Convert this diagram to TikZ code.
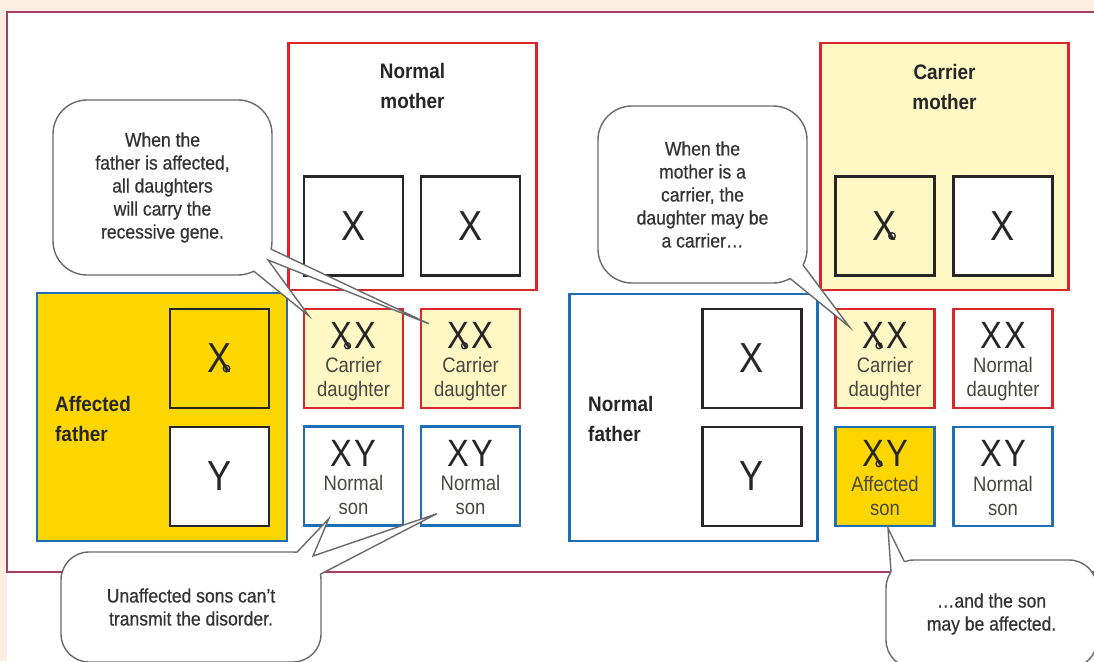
\documentclass[tikz,border=0pt]{standalone}
\usepackage{fontspec}
\setmainfont{Liberation Sans}
\newfontfamily\xfont{Liberation Sans}[FakeStretch=0.86]
\newfontfamily\kfont{Liberation Sans}[FakeStretch=0.88]
\newfontfamily\bfont{Liberation Sans}[FakeStretch=0.9,FakeBold=0.6]
\newfontfamily\lblfont{Liberation Sans}[FakeStretch=0.9]
\usetikzlibrary{calc}
\definecolor{peach}{HTML}{FDEEE2}
\definecolor{framec}{HTML}{A83C5C}
\definecolor{boxred}{HTML}{D8262C}
\definecolor{boxblue}{HTML}{1F6DB4}
\definecolor{gold}{HTML}{FDD600}
\definecolor{paleyel}{HTML}{FFF8C4}
\definecolor{bubgray}{HTML}{6A6A6A}
\definecolor{txt}{HTML}{262626}
\definecolor{ktxt}{HTML}{474740}
\definecolor{btxt}{HTML}{333333}
\begin{document}
\begin{tikzpicture}[x=1pt,y=-1pt,
  redbox/.style={draw=boxred, line width=2.5pt, rectangle, inner sep=0pt},
  bluebox/.style={draw=boxblue, line width=2.5pt, rectangle, inner sep=0pt},
  parent/.style={minimum width=248pt, minimum height=247pt},
  chrom/.style={draw=black!85, line width=2.6pt, rectangle, inner sep=0pt, minimum width=99pt, minimum height=99pt, fill=white},
  kid/.style={minimum width=99pt, minimum height=99pt},
  bigx/.style={font=\xfont\fontsize{42}{42}\selectfont, text=txt, inner sep=0pt},
  gene/.style={font=\xfont\fontsize{38}{38}\selectfont, text=txt, inner sep=0pt},
  kidlbl/.style={font=\kfont\fontsize{21}{24}\selectfont, text=ktxt, align=center, inner sep=0pt},
  plbl/.style={font=\lblfont\bfseries\fontsize{21}{30}\selectfont, text=txt, inner sep=0pt},
  bubble/.style={draw=bubgray, line width=1.4pt, fill=white, rounded corners=34pt, rectangle, align=center, font=\bfont\fontsize{19.5}{23}\selectfont, text=btxt, inner sep=0pt},
  tail/.style={draw=bubgray, line width=1.4pt, line join=miter},
  ring/.style={draw=txt, line width=1.3pt}
]
\useasboundingbox (0,0) rectangle (1094,661);
\clip (0,0) rectangle (1094,661);
% background and frame
\fill[peach] (0,0) rectangle (1094,661);
\fill[white] (7,12) rectangle (1094,661);
\draw[framec, line width=2pt] (1094,12) -- (7,12) -- (7,572) -- (1094,572);

% ---------- left cross ----------
\node[redbox, parent, fill=white] (nm) at (412.5,166.5) {};
\node[plbl, align=center] (nmt) at (412.5,86) {Normal\\mother};
\node[chrom] (nmx1) at (353.5,226) {};
\node[bigx] (nmx1t) at (nmx1) {X};
\node[chrom] (nmx2) at (470.5,226) {};
\node[bigx] (nmx2t) at (nmx2) {X};

\node[bluebox, fill=gold, minimum width=250pt, minimum height=248pt] (af) at (162,417) {};
\node[plbl, align=left, anchor=west] (aft) at (55,419) {Affected\\father};
\node[chrom, fill=gold] (fx) at (219.5,358.5) {};
\node[bigx] (fxt) at (fx) {X};
\draw[ring] ($(fxt)+(7,10)$) circle (3.3pt);
\node[chrom] (fy) at (219.5,476.5) {};
\node[bigx] (fyt) at (fy) {Y};

\node[redbox, kid, fill=paleyel] (d1) at (353.5,358.5) {};
\node[gene] (d1g) at ($(d1.north)+(0,28)$) {X\kern2pt X};
\node[kidlbl] (d1l) at ($(d1.north)+(0,71)$) {Carrier\\daughter};
\draw[ring] ($(d1g)+(-6,10)$) circle (3pt);
\node[redbox, kid, fill=paleyel] (d2) at (470.5,358.5) {};
\node[gene] (d2g) at ($(d2.north)+(0,28)$) {X\kern2pt X};
\node[kidlbl] (d2l) at ($(d2.north)+(0,71)$) {Carrier\\daughter};
\draw[ring] ($(d2g)+(-6,10)$) circle (3pt);
\node[bluebox, kid, fill=white] (s1) at (353.5,476) {};
\node[gene] (s1g) at ($(s1.north)+(0,28)$) {X\kern2pt Y};
\node[kidlbl] (s1l) at ($(s1.north)+(0,70)$) {Normal\\son};
\node[bluebox, kid, fill=white] (s2) at (470.5,476) {};
\node[gene] (s2g) at ($(s2.north)+(0,28)$) {X\kern2pt Y};
\node[kidlbl] (s2l) at ($(s2.north)+(0,70)$) {Normal\\son};

% ---------- right cross ----------
\node[redbox, parent, fill=paleyel] (cm) at (944.5,166.5) {};
\node[plbl, align=center] (cmt) at (944.5,87) {Carrier\\mother};
\node[chrom, fill=paleyel] (cmx1) at (885,226) {};
\node[bigx] (cmx1t) at (cmx1) {X};
\draw[ring] ($(cmx1t)+(7,10)$) circle (3.3pt);
\node[chrom] (cmx2) at (1003,226) {};
\node[bigx] (cmx2t) at (cmx2) {X};

\node[bluebox, parent, fill=white] (nf) at (693.5,417.5) {};
\node[plbl, align=left, anchor=west] (nft) at (588,419) {Normal\\father};
\node[chrom] (nfx) at (752,358.5) {};
\node[bigx] (nfxt) at (nfx) {X};
\node[chrom] (nfy) at (752,476.5) {};
\node[bigx] (nfyt) at (nfy) {Y};

\node[redbox, kid, fill=paleyel] (cd) at (885,358.5) {};
\node[gene] (cdg) at ($(cd.north)+(0,28)$) {X\kern2pt X};
\node[kidlbl] (cdl) at ($(cd.north)+(0,71)$) {Carrier\\daughter};
\draw[ring] ($(cdg)+(-6,10)$) circle (3pt);
\node[redbox, kid, fill=white] (nd) at (1003,358.5) {};
\node[gene] (ndg) at ($(nd.north)+(0,28)$) {X\kern2pt X};
\node[kidlbl] (ndl) at ($(nd.north)+(0,71)$) {Normal\\daughter};
\node[bluebox, kid, fill=gold] (afs) at (885,476.5) {};
\node[gene] (afsg) at ($(afs.north)+(0,28)$) {X\kern2pt Y};
\node[kidlbl] (afsl) at ($(afs.north)+(0,70)$) {Affected\\son};
\draw[ring] ($(afsg)+(-6,10)$) circle (3pt);
\node[bluebox, kid, fill=white] (ns) at (1003,476.5) {};
\node[gene] (nsg) at ($(ns.north)+(0,28)$) {X\kern2pt Y};
\node[kidlbl] (nsl) at ($(ns.north)+(0,70)$) {Normal\\son};

% ---------- callouts ----------
\node[bubble, minimum width=219pt, minimum height=175pt] (b1) at (162.5,187.5)
  {When the\\father is affected,\\all daughters\\will carry the\\recessive gene.};
\coordinate (t1a) at (253.4,270.9);
\coordinate (t1m) at (268,260);
\coordinate (t1b) at (270.8,249);
\coordinate (t1c) at (238,241);
\coordinate (t1p) at ($(d1.north west)+(6,8)$);
\coordinate (t1q) at ($(d2.north west)+(9,16)$);
\fill[white] (t1a) -- (t1p) -- (t1m) -- (t1q) -- (t1b) -- (t1c) -- cycle;
\draw[tail] (t1a) -- (t1p) -- (t1m) -- (t1q) -- (t1b);

\node[bubble, minimum width=209pt, minimum height=177pt] (b2) at (702.5,194.5)
  {When the\\mother is a\\carrier, the\\daughter may be\\a carrier…};
\coordinate (t2a) at (790,278.4);
\coordinate (t2b) at (803,265);
\coordinate (t2c) at (773,249);
\coordinate (t2p) at ($(cd.north west)+(15,19)$);
\fill[white] (t2a) -- (t2p) -- (t2b) -- (t2c) -- cycle;
\draw[tail] (t2a) -- (t2p) -- (t2b);

\node[bubble, rounded corners=28pt, minimum width=260pt, minimum height=110pt] (b3) at (191,607)
  {Unaffected sons can’t\\transmit the disorder.};
\coordinate (t3a) at (296.9,552.3);
\coordinate (t3m) at (313,556);
\coordinate (t3b) at (320.4,574.2);
\coordinate (t3c) at (293,580);
\coordinate (t3p) at ($(s1.south west)+(26,-8)$);
\coordinate (t3q) at ($(s2.south west)+(17,-13)$);
\fill[white] (t3a) -- (t3p) -- (t3m) -- (t3q) -- (t3b) -- (t3c) -- cycle;
\draw[tail] (t3a) -- (t3p) -- (t3m) -- (t3q) -- (t3b);

\node[bubble, rounded corners=28pt, minimum width=211pt, minimum height=108pt] (b4) at (991.5,614)
  {…and the son\\may be affected.};
\coordinate (t4a) at (891,572);
\coordinate (t4b) at (904.4,561.7);
\coordinate (t4c) at (914,588);
\coordinate (t4p) at ($(afs.south)+(3,1)$);
\fill[white] (t4a) -- (t4p) -- (t4b) -- (t4c) -- cycle;
\draw[tail] (t4a) -- (t4p) -- (t4b);
\end{tikzpicture}
\end{document}
